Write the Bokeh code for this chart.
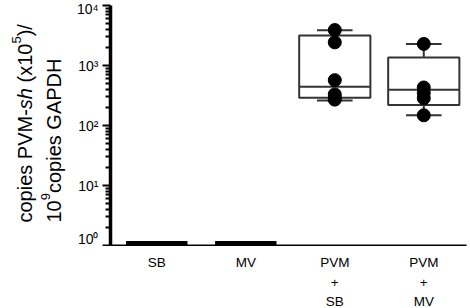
import math
from bokeh.plotting import figure
from bokeh.layouts import row, column
from bokeh.models import Range1d, FixedTicker, Label, ColumnDataSource
from bokeh.embed import file_html
from bokeh.resources import INLINE

# ---------------- data ----------------
categories = ["SB", "MV", "PVM\n+\nSB", "PVM\n+\nMV"]
box_q1 = [1.1, 1.1, 289, 220]
box_median = [1.1, 1.1, 441, 393]
box_q3 = [1.1, 1.1, 3150, 1365]
whisker_low = [1.1, 1.1, 262, 148]
whisker_high = [1.1, 1.1, 3850, 2290]
pvm_sb_points = [3900, 2430, 570, 330, 290, 270]
pvm_mv_points = [2290, 430, 350, 285, 148]
y_tick_values = [1, 10, 100, 1000, 10000]
y_tick_labels = ["10\u2070", "10\u00b9", "10\u00b2", "10\u00b3", "10\u2074"]

# ---------------- layout ----------------
W, H = 470, 308
TITLE_W = 66
PLOT_H = 246
STRIP_H = H - PLOT_H
B_LEFT, B_RIGHT, B_TOP, B_BOTTOM = 110 - TITLE_W, 4, 5, 1
X0, X1 = 0.48, 4.48
FONT = "Liberation Sans"
BOX_W = 0.80
CAP_W = 0.40
FLAT_W = 0.69
BOX_LINE = "#333333"

positions = [i + 1 for i in range(len(categories))]

def bare(fig):
    fig.xgrid.visible = False
    fig.ygrid.visible = False
    fig.outline_line_color = None
    fig.background_fill_color = "white"
    fig.border_fill_color = "white"

p = figure(width=W - TITLE_W, height=PLOT_H, y_axis_type="log", title=None,
           x_range=Range1d(X0, X1), y_range=Range1d(1, 10000),
           output_backend="svg", toolbar_location=None,
           min_border_left=B_LEFT, min_border_right=B_RIGHT,
           min_border_top=B_TOP, min_border_bottom=B_BOTTOM)
bare(p)

# y axis
minor = [m * 10 ** k for k in range(4) for m in range(2, 10)]
p.yaxis.ticker = FixedTicker(ticks=y_tick_values, minor_ticks=minor)
p.yaxis.major_label_overrides = {v: t for v, t in zip(y_tick_values, y_tick_labels)}
p.yaxis.axis_line_width = 3.5
p.yaxis.axis_line_color = "black"
p.yaxis.major_tick_line_width = 2
p.yaxis.major_tick_line_color = "black"
p.yaxis.major_tick_out = 8
p.yaxis.major_tick_in = 0
p.yaxis.minor_tick_line_width = 2
p.yaxis.minor_tick_line_color = "black"
p.yaxis.minor_tick_out = 5
p.yaxis.minor_tick_in = 0
p.yaxis.major_label_text_font = FONT
p.yaxis.major_label_text_font_size = "14px"
p.yaxis.major_label_text_color = "black"
p.yaxis.major_label_standoff = 4

# x axis: line only (labels in the strip below)
p.xaxis.ticker = FixedTicker(ticks=[])
p.xaxis.axis_line_width = 2
p.xaxis.axis_line_color = "black"
p.xaxis.major_tick_line_color = None
p.xaxis.major_tick_out = 0
p.xaxis.major_tick_in = 0
p.xaxis.minor_tick_line_color = None
p.xaxis.major_label_standoff = 0
p.xaxis.major_label_text_font_size = "0px"

# boxes
full = [i for i in range(len(categories)) if box_q3[i] > box_q1[i]]
flat = [i for i in range(len(categories)) if box_q3[i] <= box_q1[i]]

bsrc = ColumnDataSource(dict(
    x=[positions[i] for i in full],
    left=[positions[i] - BOX_W / 2 for i in full],
    right=[positions[i] + BOX_W / 2 for i in full],
    cl=[positions[i] - CAP_W / 2 for i in full],
    cr=[positions[i] + CAP_W / 2 for i in full],
    q1=[box_q1[i] for i in full],
    q3=[box_q3[i] for i in full],
    med=[box_median[i] for i in full],
    lo=[whisker_low[i] for i in full],
    hi=[whisker_high[i] for i in full],
))
p.segment(x0="x", y0="q3", x1="x", y1="hi", source=bsrc, line_color=BOX_LINE, line_width=2)
p.segment(x0="x", y0="q1", x1="x", y1="lo", source=bsrc, line_color=BOX_LINE, line_width=2)
p.segment(x0="cl", y0="hi", x1="cr", y1="hi", source=bsrc, line_color=BOX_LINE, line_width=2)
p.segment(x0="cl", y0="lo", x1="cr", y1="lo", source=bsrc, line_color=BOX_LINE, line_width=2)
p.quad(left="left", right="right", bottom="q1", top="q3", source=bsrc,
       fill_color="white", line_color=BOX_LINE, line_width=2)
p.segment(x0="left", y0="med", x1="right", y1="med", source=bsrc, line_color=BOX_LINE, line_width=2)

fsrc = ColumnDataSource(dict(
    l=[positions[i] - FLAT_W / 2 for i in flat],
    r=[positions[i] + FLAT_W / 2 for i in flat],
    y=[box_median[i] for i in flat],
))
p.segment(x0="l", y0="y", x1="r", y1="y", source=fsrc, line_color="black", line_width=4)

# points
p.scatter(x=[positions[2]] * len(pvm_sb_points), y=pvm_sb_points, size=13,
          fill_color="black", line_color="black")
p.scatter(x=[positions[3]] * len(pvm_mv_points), y=pvm_mv_points, size=13,
          fill_color="black", line_color="black")

# ---------------- category label strip ----------------
b = figure(width=W - TITLE_W, height=STRIP_H, x_range=p.x_range, y_range=Range1d(0, STRIP_H),
           title=None, output_backend="svg", toolbar_location=None,
           x_axis_location=None, y_axis_location=None,
           min_border_left=B_LEFT, min_border_right=B_RIGHT,
           min_border_top=0, min_border_bottom=0)
bare(b)
FIRST_BASE = 262.4 - PLOT_H   # baseline of first line, px below strip top
PITCH = 19.5
for pos, cat in zip(positions, categories):
    for k, line in enumerate(cat.split("\n")):
        b.add_layout(Label(x=pos, y=STRIP_H - FIRST_BASE - k * PITCH, text=line,
                           text_align="center", text_baseline="alphabetic",
                           text_font=FONT, text_font_size="13.5px", text_color="black"))

# ---------------- y axis title panel ----------------
t = figure(width=TITLE_W, height=H, x_range=Range1d(0, TITLE_W), y_range=Range1d(0, H),
           title=None, output_backend="svg", toolbar_location=None,
           x_axis_location=None, y_axis_location=None,
           min_border_left=0, min_border_right=0, min_border_top=0, min_border_bottom=0)
bare(t)

YF = 20
SUP = 13
EM = {"copies PVM-": 5.668, "sh": 1.056, " ": 0.278, "(x10": 1.945, ")/": 0.611, "10": 1.112,
      "sup": 0.556}

def rlabel(text, px_base, py_start, size, style="normal"):
    t.add_layout(Label(x=px_base, y=H - py_start, text=text, angle=math.pi / 2,
                       text_align="left", text_baseline="alphabetic",
                       text_font=FONT, text_font_size=f"{size}px",
                       text_font_style=style, text_color="black"))

# line 1: copies PVM-sh (x10^5)/
base1 = 24
cur = 222.0
rlabel("copies PVM-", base1, cur, YF); cur -= EM["copies PVM-"] * YF
rlabel("sh", base1, cur, YF, "italic"); cur -= (EM["sh"] + EM[" "]) * YF
rlabel("(x10", base1, cur, YF); cur -= EM["(x10"] * YF
rlabel("5", base1 - 8, cur, SUP); cur -= EM["sup"] * SUP
rlabel(")/", base1, cur, YF)

# line 2: 10^9 copies GAPDH
base2 = 53
cur = 222.0
rlabel("10", base2, cur, YF); cur -= EM["10"] * YF
rlabel("9", base2 - 8, cur, SUP); cur -= EM["sup"] * SUP
rlabel("copies GAPDH", base2, cur, YF)

layout = row(t, column(p, b, spacing=0), spacing=0)
open("out.html", "w").write(file_html(layout, INLINE))
